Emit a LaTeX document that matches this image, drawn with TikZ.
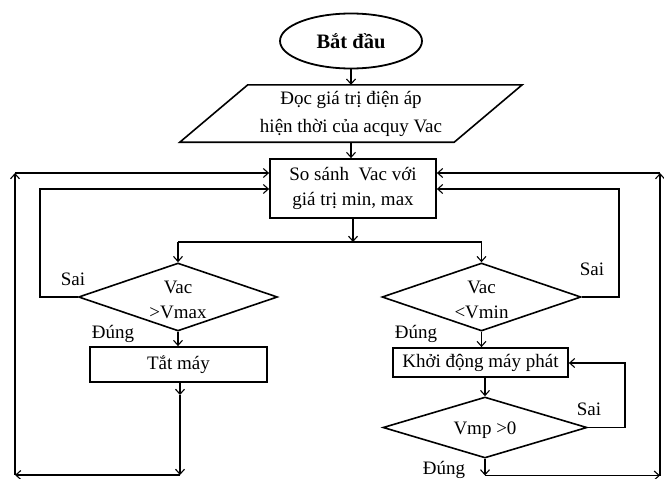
\documentclass[tikz,border=0pt]{standalone}
\usepackage{fontspec}
\setmainfont{Liberation Serif}
\usetikzlibrary{shapes.geometric,arrows.meta}
\begin{document}
\begin{tikzpicture}[x=1pt,y=-1pt,
  txt/.style={font=\fontsize{19}{25}\selectfont},
  box/.style={txt, draw, line width=1.8pt, inner sep=0pt, align=center},
  dia/.style={draw, diamond, line width=1.6pt, inner sep=0pt},
  conn/.style={line width=1.1pt},
  arr/.style={conn, -{Straight Barb[length=5pt,width=9pt]}},
  lbl/.style={txt, inner sep=0pt, anchor=base}
]
\useasboundingbox (0,0) rectangle (664,479);

% nodes
\node[box, ellipse, minimum width=142pt, minimum height=55pt,
      font=\bfseries\fontsize{20.5}{25}\selectfont] (start) at (351,41) {Bắt đầu};
\node[txt, font=\fontsize{19}{28}\selectfont, align=center, inner sep=0pt,
      minimum width=274pt, minimum height=57pt] (read) at (351,113.5)
      {Đọc giá trị điện áp\\hiện thời của acquy Vac};
\draw[line width=1.6pt] ([xshift=34pt]read.north west) -- ([xshift=34pt]read.north east)
   -- ([xshift=-34pt]read.south east) -- ([xshift=-34pt]read.south west) -- cycle;
\node[box, minimum width=166pt, minimum height=59pt] (cmp) at (353,188.5)
      {So sánh~ Vac với\\giá trị min, max};

\node[dia, minimum width=199pt, minimum height=68pt] (d1) at (178,297) {};
\node[txt, align=center, inner sep=0pt] (d1t) at (178,300) {Vac\\>Vmax};
\node[dia, minimum width=199pt, minimum height=68pt] (d2) at (481.5,297) {};
\node[txt, align=center, inner sep=0pt] (d2t) at (481.5,300) {Vac\\<Vmin};

\node[box, minimum width=177pt, minimum height=35pt] (off) at (178.5,364.5) {Tắt máy};
\node[box, minimum width=175pt, minimum height=29pt] (gen) at (480.5,362.5) {Khởi động máy phát};
\node[dia, minimum width=204pt, minimum height=61pt] (d3) at (485,427.5) {};
\node[txt, inner sep=0pt] (d3t) at (485,430) {Vmp >0};

% labels
\node[lbl] (sai1) at (73,285) {Sai};
\node[lbl] (dung1) at (113,338) {Đúng};
\node[lbl] (sai2) at (592,275) {Sai};
\node[lbl] (dung2) at (416,338) {Đúng};
\node[lbl] (sai3) at (589,415) {Sai};
\node[lbl] (dung3) at (444,474) {Đúng};

% coordinates
\coordinate (jm) at (353,242);
\coordinate (jl) at (178,242);
\coordinate (jr) at (481.5,242);
\coordinate (l1) at (40,297);
\coordinate (l2) at (40,189);
\coordinate (r1) at (619,297);
\coordinate (r2) at (619,189);
\coordinate (s1) at (625,427.5);
\coordinate (s2) at (625,363);
\coordinate (o1) at (180,395);
\coordinate (o2) at (180,475);
\coordinate (bl) at (15,475);
\coordinate (tl) at (15,173);
\coordinate (b3) at (485,475.5);
\coordinate (br) at (660,475.5);
\coordinate (tr) at (660,173);

% connectors
\draw[arr] (start.south) -- (read.north);
\draw[arr] (read.south) -- (read.south |- cmp.north);
\draw[arr] (cmp.south) -- (jm);
\draw[conn] (jl) -- (jr);
\draw[arr] (jl) -- (d1.north);
\draw[arr] (jr) -- (d2.north);
\draw[arr] (d1.west) -- (l1) -- (l2) -- (cmp.west |- l2);
\draw[arr] (d2.east) -- (r1) -- (r2) -- (cmp.east |- r2);
\draw[arr] (d1.south) -- (d1.south |- off.north);
\draw[arr] (d2.south) -- (d2.south |- gen.north);
\draw[arr] (d3.north |- gen.south) -- (d3.north);
\draw[arr] (d3.east) -- (s1) -- (s2) -- (gen.east |- s2);
\draw[arr] (o1 |- off.south) -- (o1);
\draw[arr] (o1) -- (o2);
\draw[arr] (o2) -- (bl);
\draw[arr] (bl) -- (tl);
\draw[arr] (tl) -- (cmp.west |- tl);
\draw[arr] (d3.south) -- (b3);
\draw[arr] (b3) -- (br);
\draw[arr] (br) -- (tr);
\draw[arr] (tr) -- (cmp.east |- tr);
\end{tikzpicture}
\end{document}
